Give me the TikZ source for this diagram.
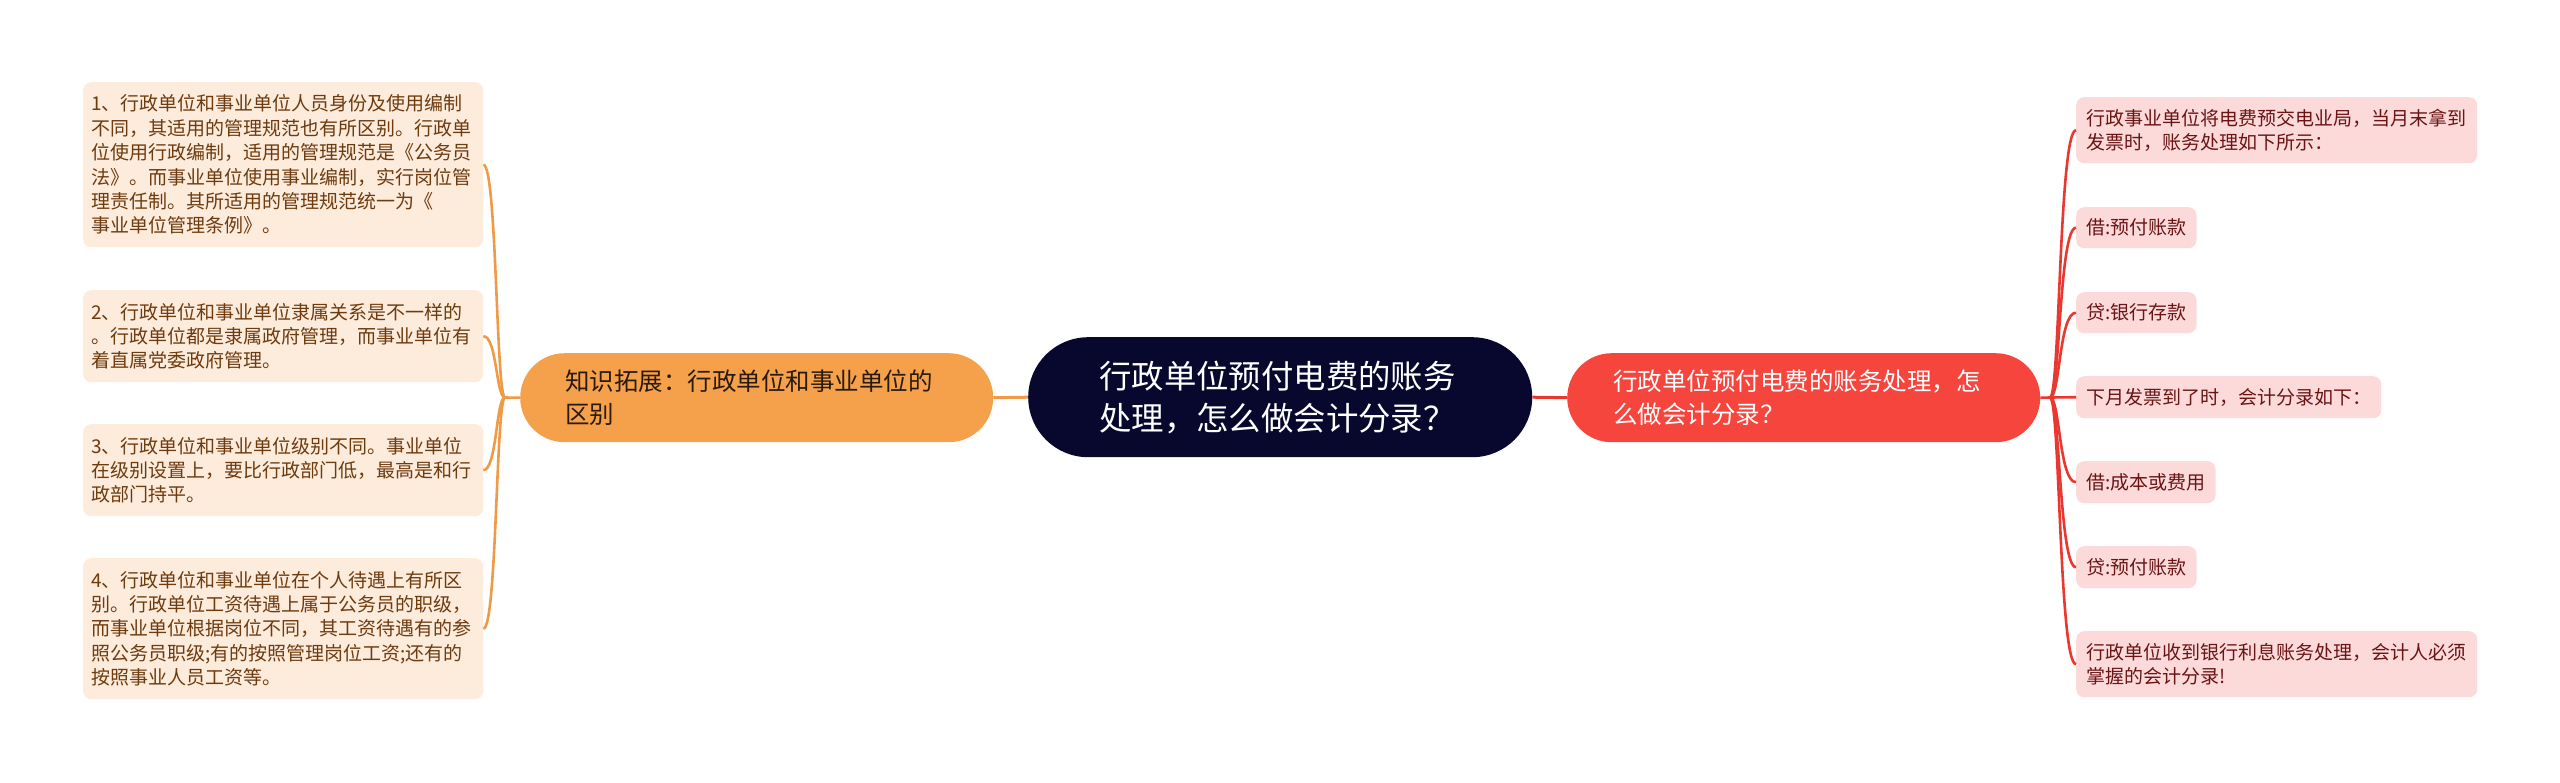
\documentclass[tikz,border=0pt]{standalone}
\usepackage{fontspec}
\setmainfont{Noto Sans CJK SC}
\definecolor{centerfill}{HTML}{08082E}
\definecolor{orangefill}{HTML}{F5A04B}
\definecolor{orangeline}{HTML}{EF9A47}
\definecolor{redfill}{HTML}{F6453D}
\definecolor{redline}{HTML}{E8382F}
\definecolor{leafLfill}{HTML}{FDEBDC}
\definecolor{leafLtext}{HTML}{6E3B0E}
\definecolor{leafRfill}{HTML}{FDDADA}
\definecolor{leafRtext}{HTML}{6A1414}
\definecolor{orangetext}{HTML}{2A1A0C}
\tikzset{
  leafL/.style={fill=leafLfill, rounded corners=8pt, anchor=north west, inner xsep=0pt, inner ysep=0pt,
    minimum width=400pt, text width=384pt, align=left, text=leafLtext,
    font=\fontsize{19pt}{24.4pt}\selectfont},
  leafR/.style={fill=leafRfill, rounded corners=8pt, anchor=north west, inner xsep=10pt, inner ysep=0pt,
    align=left, text=leafRtext, font=\fontsize{19pt}{24pt}\selectfont},
  mainbox/.style={anchor=north west, inner xsep=0pt, inner ysep=0pt, align=left},
  oline/.style={draw=orangeline, line width=2.6pt},
  rline/.style={draw=redline, line width=2.6pt},
}
\begin{document}
\begin{tikzpicture}[x=1pt,y=-1pt]
\useasboundingbox (0,0) rectangle (2560,782);
% main nodes
\node[mainbox, fill=centerfill, rounded corners=60pt, minimum width=504pt, minimum height=120pt,
  text width=362pt, text=white, font=\fontsize{32.4pt}{42pt}\selectfont] (center) at (1028,337)
  {行政单位预付电费的账务\\处理，怎么做会计分录？};
\node[mainbox, fill=orangefill, rounded corners=44.5pt, minimum width=473pt, minimum height=89pt,
  text width=383pt, text=orangetext, font=\fontsize{24.5pt}{33pt}\selectfont] (orange) at (520,353)
  {知识拓展：行政单位和事业单位的\\区别};
\node[mainbox, fill=redfill, rounded corners=44.5pt, minimum width=473pt, minimum height=89pt,
  text width=381pt, text=white, font=\fontsize{24.5pt}{33pt}\selectfont] (red) at (1567,353)
  {行政单位预付电费的账务处理，怎\\么做会计分录？};
% left leaves
\node[leafL, minimum height=165pt] (l1) at (83,82)
  {1、行政单位和事业单位人员身份及使用编制\\不同，其适用的管理规范也有所区别。行政单\\位使用行政编制，适用的管理规范是《公务员\\法》。而事业单位使用事业编制，实行岗位管\\理责任制。其所适用的管理规范统一为《\\事业单位管理条例》。};
\node[leafL, minimum height=92pt] (l2) at (83,290)
  {2、行政单位和事业单位隶属关系是不一样的\\。行政单位都是隶属政府管理，而事业单位有\\着直属党委政府管理。};
\node[leafL, minimum height=92pt] (l3) at (83,424)
  {3、行政单位和事业单位级别不同。事业单位\\在级别设置上，要比行政部门低，最高是和行\\政部门持平。};
\node[leafL, minimum height=141pt] (l4) at (83,558)
  {4、行政单位和事业单位在个人待遇上有所区\\别。行政单位工资待遇上属于公务员的职级，\\而事业单位根据岗位不同，其工资待遇有的参\\照公务员职级;有的按照管理岗位工资;还有的\\按照事业人员工资等。};
% right leaves
\node[leafR, minimum height=66pt, minimum width=401pt, text width=381pt] (r1) at (2076,97)
  {行政事业单位将电费预交电业局，当月末拿到\\发票时，账务处理如下所示：};
\node[leafR, minimum height=41pt] (r2) at (2076,207) {借:预付账款};
\node[leafR, minimum height=41pt] (r3) at (2076,292) {贷:银行存款};
\node[leafR, minimum height=42pt] (r4) at (2076,376) {下月发票到了时，会计分录如下：};
\node[leafR, minimum height=42pt] (r5) at (2076,461) {借:成本或费用};
\node[leafR, minimum height=42pt] (r6) at (2076,546) {贷:预付账款};
\node[leafR, minimum height=66pt, minimum width=401pt, text width=381pt] (r7) at (2076,631)
  {行政单位收到银行利息账务处理，会计人必须\\掌握的会计分录!};
% connectors
\coordinate (lj) at (505,397.5);
\coordinate (lc) at (496,397.5);
\coordinate (lx) at (497,0);
\coordinate (rj) at (2050,397.5);
\coordinate (rc) at (2060,397.5);
\coordinate (rx) at (2059,0);
\draw[line width=3pt, orangeline] (center.west) -- (orange.east);
\draw[line width=3pt, redline] (center.east) -- (red.west);
\draw[oline] (orange.west) -- (lj);
\draw[rline] (red.east) -- (rj);
\foreach \n in {l1,l2,l3,l4}{
  \draw[oline] (lj) .. controls (lc) and (lx |- \n.east) .. (\n.east);
}
\foreach \n in {r1,r2,r3,r5,r6,r7}{
  \draw[rline] (rj) .. controls (rc) and (rx |- \n.west) .. (\n.west);
}
\draw[rline] (rj) -- (r4.west);
\end{tikzpicture}
\end{document}
